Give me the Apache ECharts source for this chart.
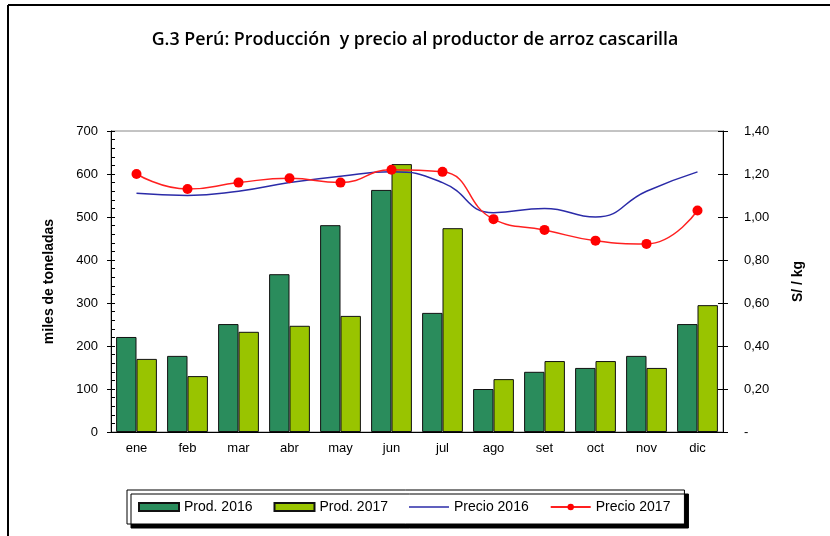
<!DOCTYPE html>
<html>
<head>
<meta charset="utf-8">
<script src="https://cdn.jsdelivr.net/npm/echarts@6/dist/echarts.min.js"></script>
<style>
  html, body { margin: 0; padding: 0; background: #fff; }
  #chart { width: 830px; height: 536px; }
</style>
</head>
<body>
<div id="chart"></div>
<script>
// ── Data ─────────────────────────────────────────────────────────────────────
const months = ['ene', 'feb', 'mar', 'abr', 'may', 'jun', 'jul', 'ago', 'set', 'oct', 'nov', 'dic'];
const prod2016 = [221, 177, 251, 367, 481, 563, 277, 100, 140, 149, 177, 251];
const prod2017 = [170, 130, 233, 247, 270, 623, 474, 123, 165, 165, 149, 295];
const precio2016 = [1.11, 1.10, 1.12, 1.16, 1.19, 1.21, 1.16, 1.02, 1.04, 1.00, 1.12, 1.21];
const precio2017 = [1.20, 1.13, 1.16, 1.18, 1.16, 1.22, 1.21, 0.99, 0.94, 0.89, 0.875, 1.03];

const FONT = 'Liberation Sans, Arial, sans-serif';
const LINE_ICON = 'path://M0,0 L40,0 L40,1.6 L0,1.6 Z';

const chart = echarts.init(document.getElementById('chart'), null, { renderer: 'canvas' });

chart.setOption({
  backgroundColor: '#fff',
  animation: false,
  title: {
    text: 'G.3 Perú: Producción  y precio al productor de arroz cascarilla',
    left: 'center',
    top: 26,
    textStyle: { fontFamily: 'Open Sans, sans-serif', fontSize: 17.8, fontWeight: 600, color: '#000' },
  },
  graphic: [
    { type: 'line', shape: { x1: 8, y1: 5, x2: 830, y2: 5 }, style: { stroke: '#000', lineWidth: 2 } },
    { type: 'line', shape: { x1: 8, y1: 5, x2: 8, y2: 536 }, style: { stroke: '#000', lineWidth: 2 } },
  ],
  legend: {
    left: 127,
    top: 490,
    padding: [10, 14, 10, 11],
    itemGap: 21,
    itemWidth: 40,
    itemHeight: 8,
    backgroundColor: '#fff',
    borderColor: '#000',
    borderWidth: 1,
    shadowColor: '#000',
    shadowBlur: 0,
    shadowOffsetX: 4,
    shadowOffsetY: 4,
    textStyle: { fontFamily: FONT, fontSize: 14, color: '#000' },
    data: [
      { name: 'Prod. 2016', icon: 'rect' },
      { name: 'Prod. 2017', icon: 'rect' },
      { name: 'Precio 2016', icon: LINE_ICON, itemWidth: 37 },
      { name: 'Precio 2017' },
    ],
  },
  grid: { left: 111, right: 107, top: 131, bottom: 104, show: true, borderColor: '#888', borderWidth: 1 },
  xAxis: {
    type: 'category',
    data: months,
    axisLine: { lineStyle: { color: '#000' } },
    axisTick: { alignWithLabel: false, length: 5, lineStyle: { color: '#000' } },
    axisLabel: { fontFamily: FONT, fontSize: 13, color: '#000', margin: 10 },
  },
  yAxis: [
    {
      type: 'value', min: 0, max: 700, interval: 100, position: 'left',
      name: 'miles de toneladas', nameLocation: 'middle', nameGap: 55,
      nameTextStyle: { fontFamily: FONT, fontSize: 14, fontWeight: 'bold', color: '#000' },
      axisLine: { show: true, lineStyle: { color: '#000' } },
      axisTick: { show: true, length: 4, lineStyle: { color: '#000' } },
      axisLabel: { fontFamily: FONT, fontSize: 13, color: '#000', margin: 13 },
      splitLine: { show: false },
    },
    {
      type: 'value', min: 0, max: 1.4, interval: 0.2, position: 'right',
      name: 'S/ / kg', nameLocation: 'middle', nameGap: 68, nameRotate: 90,
      nameTextStyle: { fontFamily: FONT, fontSize: 14, fontWeight: 'bold', color: '#000' },
      axisLine: { show: true, lineStyle: { color: '#000' } },
      axisTick: { show: true, length: 5, lineStyle: { color: '#000' } },
      axisLabel: {
        fontFamily: FONT, fontSize: 13, color: '#000', margin: 21,
        formatter: v => v === 0 ? '-' : v.toFixed(2).replace('.', ','),
      },
      splitLine: { show: false },
    },
    {
      // inward ticks on the left axis (major crossing + minor)
      type: 'value', min: 0, max: 700, interval: 100, position: 'left',
      axisLine: { show: false },
      axisTick: { show: true, inside: true, length: 4, lineStyle: { color: '#000' } },
      minorTick: { show: true, splitNumber: 5, length: 4, lineStyle: { color: '#000' } },
      axisLabel: { show: false },
      splitLine: { show: false },
    },
    {
      type: 'value', min: 0, max: 1.4, interval: 0.2, position: 'right',
      axisLine: { show: false },
      axisTick: { show: true, inside: true, length: 5, lineStyle: { color: '#000' } },
      axisLabel: { show: false },
      splitLine: { show: false },
    },
  ],
  series: [
    {
      name: 'Prod. 2016', type: 'bar', yAxisIndex: 0, data: prod2016,
      barGap: '0%', barCategoryGap: '20%',
      itemStyle: { color: '#2a8c5c', borderColor: '#111', borderWidth: 1 },
    },
    {
      name: 'Prod. 2017', type: 'bar', yAxisIndex: 0, data: prod2017,
      itemStyle: { color: '#99c400', borderColor: '#111', borderWidth: 1 },
    },
    {
      name: 'Precio 2016', type: 'line', yAxisIndex: 1, data: precio2016,
      smooth: 0.5, symbol: 'none',
      lineStyle: { color: '#2b2ba8', width: 1.5 },
      itemStyle: { color: '#2b2ba8' },
    },
    {
      name: 'Precio 2017', type: 'line', yAxisIndex: 1, data: precio2017,
      smooth: 0.5, symbol: 'circle', symbolSize: 10,
      lineStyle: { color: '#ff2020', width: 1.5 },
      itemStyle: { color: '#ff0000' },
    },
  ],
});
</script>
</body>
</html>
